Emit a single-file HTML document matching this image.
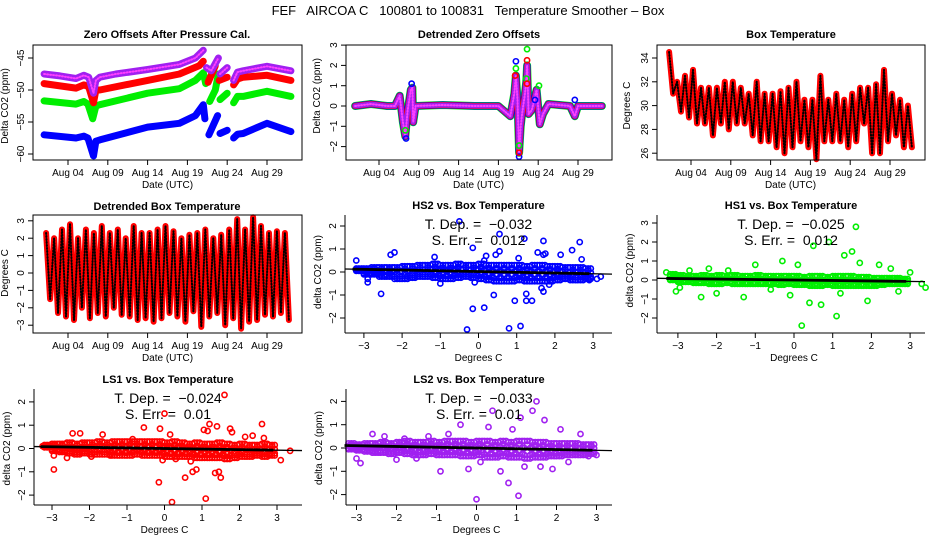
<!DOCTYPE html>
<html><head><meta charset="utf-8"><style>
html,body{margin:0;padding:0;background:#fff}
svg{display:block;font-family:"Liberation Sans",sans-serif}
</style></head><body>
<svg id="c" width="936" height="540" viewBox="0 0 936 540" xmlns="http://www.w3.org/2000/svg">
<rect width="936" height="540" fill="#fff"/>
<text x="468" y="15" text-anchor="middle" font-size="13" style="white-space:pre">FEF   AIRCOA C   100801 to 100831   Temperature Smoother – Box</text>
</svg>
<script>
// ===== Data =====
var dateTicks = [4, 9, 14, 19, 24, 29];
var dateLabels = ["Aug 04", "Aug 09", "Aug 14", "Aug 19", "Aug 24", "Aug 29"];
var zoPurple = [[1,-47.5],[3,-47.8],[5,-48.2],[6,-47.7],[6.6,-48],[7.2,-50.5],[7.5,-48.5],[8,-48],[10,-47.5],[14,-46.8],[18,-46],[20,-45],[21,-43.8],null,[21.4,-46.5],[22,-47],[22.9,-45],null,[23.1,-47.5],[24,-46.5],null,[24.8,-48.5],[25.3,-47.2],[26,-47],[29,-46.3],[32,-47]];
var zoRed = [[1,-49],[5,-49.7],[6,-49.2],[6.6,-49.5],[7.2,-52],[7.5,-50],[8,-50],[14,-48.5],[18,-47.5],[20.5,-46.2],[21,-45.5],null,[21.3,-46.8],null,[21.6,-48.8],[22.5,-46.2],null,[23,-48.5],[24,-48],null,[24.8,-49.2],[25.3,-48.3],[26,-48],[29,-47.7],[32,-48.5]];
var zoGreen = [[1,-51.7],[5,-52.2],[6,-51.8],[6.5,-52.2],[7.1,-54.5],[7.5,-52.5],[8,-52.3],[14,-50.5],[18,-49.8],[20,-48.5],[21,-47.3],[21.3,-49],null,[21.8,-51.8],[22.5,-50],[22.9,-47.5],null,[23.1,-51.5],[24,-50.5],null,[24.8,-52],[25.3,-51],[26,-51],[29,-50.2],[32,-51]];
var zoBlue = [[1,-57],[5,-57.5],[6,-57.2],[6.5,-57.5],[7.2,-60.3],[7.5,-58],[8,-57.8],[14,-55.8],[18,-55.2],[20,-54],[21,-52.3],[21.2,-54.5],null,[21.7,-57],[22.8,-54],null,[23.1,-56.8],[24,-56.3],null,[24.8,-57.5],[25.3,-56.9],[26,-56.8],[29,-55.2],[32,-56.5]];
var dzLine = [[1,0],[3,0.1],[5,0],[6,0],[6.6,0.5],[7,-0.8],[7.3,-1.5],[7.6,-0.2],[8,0.8],[8.2,0.9],[8.3,-0.8],[8.6,0],[12,0.05],[16,0],[19,0],[20.5,-0.5],[21,0.6],[21.2,1.5],[21.4,0.3],[21.6,-2.3],[21.8,-1],[22,-0.3],[22.3,0.5],[22.5,1.2],[22.6,2],[22.8,-0.4],[23.2,-0.2],[23.8,0.8],[24.2,-0.9],[24.6,-0.4],[25.3,0.1],[28,0],[28.6,-0.5],[29,0],[32,0]];
var dzBlueX = [21.2,21.6,7.4,8.1,23.6,28.6];
var dzBlueY = [2.2,-2.5,-1.6,1.1,0.3,0.3];
var dzGreenX = [22.6,21.6,21.2,22.5,24.1,7.3];
var dzGreenY = [2.8,-1.95,1.85,1.35,1.0,-1.2];
var dzRedX = [22.6,21.6,21.1,22.6];
var dzRedY = [2.25,-2.3,1.5,1.1];
var btMax = [34.5,32,32.5,33,31.5,31.5,31.5,32,32,31.5,31,32,31,31,31.2,31.5,32,30.5,30.5,32.5,30.5,31,30.5,31,31.5,31.5,31.8,33,31,30.5,30];
var btMin = [31,29.5,29,28.5,28.5,27.5,28.5,28,28.5,28.5,27.5,27,27,26.5,26,26.5,27,26.5,25.5,27,27,27,26.5,27,28.5,26,26,27,27.5,26.5,26.5];
var dbMax = [2.3,2.0,2.5,2.8,2.0,2.5,2.3,2.7,2.3,2.5,2.0,2.7,2.3,2.3,2.5,2.7,2.4,2.0,2.2,2.3,2.5,2.0,2.2,2.5,3.1,2.5,3.2,2.7,2.3,2.4,2.3];
var dbMin = [-1.5,-2.3,-2.5,-2.7,-2.0,-2.6,-2.3,-2.5,-2.0,-2.4,-2.5,-2.7,-2.6,-2.8,-2.6,-2.3,-2.5,-2.8,-2.2,-3.1,-2.5,-2.3,-3.0,-2.6,-3.2,-2.8,-2.7,-2.4,-2.5,-2.3,-2.7];
var bandX = [-3.2,-3.0,-2.8,-2.6,-2.4,-2.2,-2.0,-1.8,-1.6,-1.4,-1.2,-1.0,-0.8,-0.6,-0.4,-0.2,0,0.2,0.4,0.6,0.8,1.0,1.2,1.4,1.6,1.8,2.0,2.2,2.4,2.6,2.8];
var hs2Hi = [0.15,0.15,0.2,0.2,0.2,0.2,0.25,0.25,0.3,0.3,0.35,0.3,0.3,0.35,0.3,0.3,0.35,0.3,0.3,0.3,0.3,0.3,0.25,0.3,0.3,0.25,0.25,0.2,0.2,0.2,0.15];
var hs2Lo = [0.05,-0.1,-0.1,-0.2,-0.2,-0.3,-0.3,-0.25,-0.2,-0.2,-0.25,-0.3,-0.3,-0.25,-0.2,-0.25,-0.3,-0.35,-0.4,-0.4,-0.4,-0.35,-0.4,-0.4,-0.4,-0.4,-0.35,-0.3,-0.35,-0.35,-0.3];
var hs2X = [-3.2,-2.9,-2.9,-2.55,-2.3,-2.2,-1.15,-1,-0.5,-0.3,-0.15,-0.15,-0.1,0.15,0.15,0.2,0.4,0.45,0.55,0.55,0.8,0.95,1.05,1.1,1.2,1.25,1.25,1.4,1.55,1.65,1.7,1.7,1.7,1.75,1.85,2.15,2.45,2.65,2.7,2.9,3.1,3.2];
var hs2Y = [0.5,-0.3,-0.45,-0.95,0.75,0.85,0.65,-0.5,2.2,-2.5,1.05,-1.6,-0.45,0.5,-1.55,0.7,-1,0.75,0.9,1.65,-2.45,-1.25,0.6,-2.35,1.45,-0.95,-1.25,-1.25,0.85,-0.7,1.35,-0.85,0.75,0.8,-0.55,0.75,0.95,1.3,0.55,-0.35,-0.3,-0.2];
var hs1Hi = [0.3,0.25,0.2,0.2,0.25,0.2,0.25,0.2,0.25,0.2,0.2,0.25,0.2,0.2,0.2,0.2,0.2,0.15,0.2,0.2,0.15,0.2,0.2,0.2,0.15,0.15,0.1,0.1,0.1,0.1,0.05];
var hs1Lo = [0,-0.1,-0.1,-0.15,-0.15,-0.2,-0.2,-0.15,-0.2,-0.2,-0.2,-0.2,-0.2,-0.2,-0.25,-0.2,-0.25,-0.25,-0.3,-0.3,-0.25,-0.3,-0.3,-0.3,-0.3,-0.3,-0.3,-0.25,-0.2,-0.2,-0.2];
var hs1X = [-3.3,-3.05,-2.95,-2.7,-2.4,-2.2,-2.0,-1.7,-1.3,-1.0,-0.6,-0.3,-0.1,0.1,0.2,0.4,0.5,0.7,0.9,1.1,1.2,1.3,1.5,1.6,1.7,1.9,2.2,2.5,2.7,3.0,3.3,3.4];
var hs1Y = [0.4,-0.6,-0.4,0.5,-0.9,0.6,-0.7,0.5,-0.9,0.8,-0.5,1.0,-0.8,0.8,-2.4,-1.2,1.8,-1.3,2.0,-1.9,-0.7,1.3,1.5,2.8,0.9,-1.1,0.8,0.6,-0.6,0.4,-0.2,-0.4];
var ls1Hi = [0.15,0.2,0.2,0.25,0.2,0.25,0.25,0.3,0.25,0.3,0.3,0.3,0.3,0.3,0.3,0.3,0.25,0.3,0.25,0.2,0.25,0.2,0.2,0.25,0.2,0.15,0.2,0.15,0.15,0.2,0.15];
var ls1Lo = [0.05,-0.1,-0.15,-0.2,-0.25,-0.2,-0.25,-0.25,-0.25,-0.3,-0.3,-0.3,-0.25,-0.3,-0.3,-0.3,-0.35,-0.35,-0.35,-0.35,-0.4,-0.4,-0.4,-0.4,-0.45,-0.4,-0.35,-0.35,-0.3,-0.35,-0.3];
var ls1X = [-3.25,-2.95,-2.95,-2.6,-2.45,-2.25,-1.95,-1.65,-1.45,-0.85,-0.55,-0.15,-0.12,-0.05,0.0,0.2,0.15,0.3,0.55,0.7,0.75,0.85,1.05,1.1,1.15,1.2,1.35,1.4,1.45,1.5,1.6,1.75,1.8,2.15,2.35,2.6,2.65,2.8,3.1,3.35];
var ls1Y = [0.1,-0.3,-0.9,-0.4,0.65,0.65,-0.35,0.6,-0.3,0.4,0.9,-1.45,0.85,-0.5,1.5,-2.3,0.6,-0.45,-1.25,-0.55,-1.0,-0.9,0.8,-2.15,0.75,1.05,-1.05,0.95,-1.0,-1.25,2.3,0.85,0.7,0.5,0.55,1.05,0.45,-0.25,-0.5,-0.1];
var ls2Hi = [0.2,0.15,0.2,0.2,0.25,0.2,0.25,0.3,0.25,0.25,0.3,0.25,0.3,0.3,0.3,0.25,0.3,0.3,0.25,0.3,0.25,0.3,0.3,0.25,0.25,0.2,0.2,0.2,0.2,0.15,0.15];
var ls2Lo = [-0.05,-0.1,-0.15,-0.2,-0.2,-0.25,-0.2,-0.25,-0.3,-0.3,-0.25,-0.3,-0.3,-0.3,-0.35,-0.35,-0.3,-0.4,-0.4,-0.35,-0.4,-0.4,-0.45,-0.4,-0.4,-0.35,-0.35,-0.3,-0.3,-0.3,-0.25];
var ls2X = [-3.0,-2.9,-2.6,-2.3,-2.0,-1.8,-1.5,-1.2,-0.9,-0.7,-0.4,-0.2,0.0,0.1,0.3,0.4,0.6,0.8,0.9,1.05,1.1,1.2,1.4,1.5,1.6,1.7,1.9,2.1,2.3,2.6,2.8,3.0];
var ls2Y = [-0.45,-0.65,0.6,0.5,-0.5,0.4,-0.45,0.5,-1.0,0.6,1.0,-0.9,-2.2,-0.6,0.9,1.6,-1.0,-1.5,0.8,-2.05,1.3,-0.8,1.6,2.0,-0.8,1.2,-0.9,0.8,-0.6,0.6,-0.35,-0.3];
var slopes = {hs2: -0.032, hs1: -0.025, ls1: -0.024, ls2: -0.033};
var intercepts = {hs2: 0.02, hs1: 0.0, ls1: 0.0, ls2: 0.0};
var depText = {hs2: "-0.032", hs1: "-0.025", ls1: "-0.024", ls2: "-0.033"};
var errText = {hs2: "0.012", hs1: "0.012", ls1: "0.01", ls2: "0.01"};

// ===== Drawing =====
var NS = "http://www.w3.org/2000/svg";
var svg = document.getElementById("c");
function mk(tag, attrs, parent) {
  var e = document.createElementNS(NS, tag);
  for (var k in attrs) e.setAttribute(k, attrs[k]);
  (parent || svg).appendChild(e);
  return e;
}
function txt(s, attrs, parent) { var t = mk("text", attrs, parent); t.textContent = s; return t; }
function panelGroup(name) {
  var g = mk("g", {});
  
  
  return g;
}
function title(g, s, cx, y) {
  var t = txt(s, {x: cx, y: y, "text-anchor": "middle", "font-size": 11, "font-weight": "bold"}, g);
  
  
}
function yAxis(g, xl, ticks, fy, label, labX) {
  var ya = mk("g", {}, g);
  
  
  mk("line", {x1: xl, x2: xl, y1: fy(ticks[0]), y2: fy(ticks[ticks.length - 1]), stroke: "#000"}, ya);
  ticks.forEach(function (v) {
    var y = fy(v);
    mk("line", {x1: xl - 5, x2: xl, y1: y, y2: y, stroke: "#000"}, ya);
    var s = String(v).replace("-", "\u2212");
    var t = txt(s, {x: 0, y: 0, "text-anchor": "middle", "font-size": 10, transform: "translate(" + (xl - 9) + "," + y + ") rotate(-90)"}, ya);
    
    
  });
  var yl = txt(label, {x: 0, y: 0, "text-anchor": "middle", "font-size": 10, transform: "translate(" + labX + "," + (fy(ticks[0]) + fy(ticks[ticks.length - 1])) / 2 + ") rotate(-90)"}, ya);
  
  
}
function xAxis(g, yb, ticks, labels, fx, label) {
  var xa = mk("g", {}, g);
  
  
  mk("line", {x1: fx(ticks[0]), x2: fx(ticks[ticks.length - 1]), y1: yb, y2: yb, stroke: "#000"}, xa);
  ticks.forEach(function (v, i) {
    var x = fx(v);
    mk("line", {x1: x, x2: x, y1: yb, y2: yb + 5, stroke: "#000"}, xa);
    var t = txt(labels[i], {x: x, y: yb + 16, "text-anchor": "middle", "font-size": 10}, xa);
    
    
  });
  var xl = txt(label, {x: (fx(ticks[0]) + fx(ticks[ticks.length - 1])) / 2, y: yb + 28, "text-anchor": "middle", "font-size": 10}, xa);
  
  
}
function box(g, x0, x1, y0, y1) {
  var r = mk("rect", {x: x0, y: y0, width: x1 - x0, height: y1 - y0, fill: "none", stroke: "#000"}, g);
  
  
}
function polyPairs(g, pairs, fx, fy, color, w, name, dash) {
  var segs = [[]];
  pairs.forEach(function (p) { if (p === null) segs.push([]); else segs[segs.length - 1].push(fx(p[0]).toFixed(1) + "," + fy(p[1]).toFixed(1)); });
  segs.forEach(function (s) {
    if (!s.length) return;
    var pl = mk("polyline", {points: s.join(" "), fill: "none", stroke: color, "stroke-width": w, "stroke-linejoin": "round", "stroke-linecap": "round"}, g);
    if (dash) pl.setAttribute("stroke-dasharray", dash);
    
    
  });
}
function dots(g, xs, ys, fx, fy, color, name) {
  xs.forEach(function (x, i) {
    var c = mk("circle", {cx: fx(x), cy: fy(ys[i]), r: 2.6, fill: "none", stroke: color, "stroke-width": 1.6}, g);
    
    
  });
}
function daily(mx, mn) {
  var pts = [];
  for (var i = 0; i < mx.length; i++) { pts.push([i + 1.25, mx[i]]); pts.push([i + 1.75, mn[i]]); }
  return pts;
}
function dayScale(a4) { return function (d) { return a4 + (d - 4) * 7.96; }; }

(function () {
  var g = panelGroup("zero-offsets-panel");
  var fx = dayScale(68), fy = function (v) { return 58 + (-45 - v) * 6.4; };
  title(g, "Zero Offsets After Pressure Cal.", 167, 38);
  polyPairs(g, zoBlue, fx, fy, "#0000ff", 7, "series-hs2");
  polyPairs(g, zoGreen, fx, fy, "#00ee00", 7, "series-hs1");
  polyPairs(g, zoRed, fx, fy, "#ff0000", 7, "series-ls1");
  polyPairs(g, zoPurple, fx, fy, "#a020f0", 7, "series-ls2");
  polyPairs(g, zoPurple, fx, fy, "#ff40ff", 2, "series-ls2-dots", "1 2");
  box(g, 33, 302, 45, 160);
  yAxis(g, 33, [-60, -55, -50, -45], fy, "Delta CO2 (ppm)", 8);
  xAxis(g, 160, dateTicks, dateLabels, fx, "Date (UTC)");
})();

(function () {
  var g = panelGroup("detrended-zero-offsets-panel");
  var fx = dayScale(379), fy = function (v) { return 106 - v * 20.3; };
  title(g, "Detrended Zero Offsets", 479, 38);
  polyPairs(g, dzLine, fx, fy, "#00ee00", 8, "series-hs1");
  polyPairs(g, dzLine, fx, fy, "#0000ff", 7, "series-hs2");
  polyPairs(g, dzLine, fx, fy, "#ff0000", 6, "series-ls1");
  polyPairs(g, dzLine, fx, fy, "#a020f0", 5, "series-ls2");
  polyPairs(g, dzLine, fx, fy, "#ff40ff", 2, "series-ls2-dots", "1 2");
  dots(g, dzBlueX, dzBlueY, fx, fy, "#0000ff", "hs2-point");
  dots(g, dzGreenX, dzGreenY, fx, fy, "#00ee00", "hs1-point");
  dots(g, dzRedX, dzRedY, fx, fy, "#ff0000", "ls1-point");
  box(g, 346, 612, 45, 160);
  yAxis(g, 346, [-2, -1, 0, 1, 2, 3], fy, "Delta CO2 (ppm)", 320);
  xAxis(g, 160, dateTicks, dateLabels, fx, "Date (UTC)");
})();

(function () {
  var g = panelGroup("box-temperature-panel");
  var fx = dayScale(691), fy = function (v) { return 58 + (34 - v) * 11.9; };
  title(g, "Box Temperature", 791, 38);
  var pts = daily(btMax, btMin);
  polyPairs(g, pts, fx, fy, "#ff0000", 6, "box-temp-series");
  polyPairs(g, pts, fx, fy, "#000000", 2, "box-temp-dots", "1 2");
  box(g, 657, 925, 45, 160);
  yAxis(g, 657, [26, 28, 30, 32, 34], fy, "Degrees C", 630);
  xAxis(g, 160, dateTicks, dateLabels, fx, "Date (UTC)");
})();

(function () {
  var g = panelGroup("detrended-box-temperature-panel");
  var fx = dayScale(68), fy = function (v) { return 273 - v * 17.4; };
  title(g, "Detrended Box Temperature", 167, 210);
  var pts = daily(dbMax, dbMin);
  polyPairs(g, pts, fx, fy, "#ff0000", 6, "detrended-temp-series");
  polyPairs(g, pts, fx, fy, "#000000", 2, "detrended-temp-dots", "1 2");
  box(g, 33, 302, 215, 333);
  yAxis(g, 33, [-3, -2, -1, 0, 1, 2, 3], fy, "Degrees C", 8);
  xAxis(g, 333, dateTicks, dateLabels, fx, "Date (UTC)");
})();

function scatterPanel(key, name, ttl, x0, x1, y0, y1, cx0, ux, cy0, uy, yt, hi, lo, xs, ys, color) {
  var g = panelGroup(name);
  var fx = function (v) { return cx0 + v * ux; }, fy = function (v) { return cy0 - v * uy; };
  title(g, ttl, (x0 + x1) / 2, y0 - 6);
  var bx = [], by = [];
  var fr = [1, 0.6, 0.2, -0.2, -0.6, -1];
  bandX.forEach(function (x, i) {
    var mid = (hi[i] + lo[i]) / 2, half = (hi[i] - lo[i]) / 2;
    [0, 0.07, 0.14].forEach(function (dx, k) {
      fr.forEach(function (f, j) {
        if ((j + k) % 2 === 0 || j === 0 || j === 5) { bx.push(x + dx); by.push(mid + f * half); }
      });
    });
  });
  dots(g, bx, by, fx, fy, color, "band-point");
  dots(g, xs, ys, fx, fy, color, "outlier-point");
  var s = slopes[key], b = intercepts[key];
  var xa = (x0 - cx0) / ux, xb = (x1 - cx0) / ux;
  var l1 = mk("line", {x1: fx(xa), y1: fy(b + s * xa), x2: fx(xb), y2: fy(b + s * xb), stroke: "#000", "stroke-width": 1.3}, g);
  
  
  var l2 = mk("line", {x1: fx(-3.3), y1: fy(b + s * -3.3), x2: fx(2.9), y2: fy(b + s * 2.9), stroke: "#000", "stroke-width": 2.8}, g);
  
  
  mk("line", {x1: x0, x2: x0, y1: y0, y2: y1, stroke: "#000"}, g);
  mk("line", {x1: x0, x2: x1, y1: y1, y2: y1, stroke: "#000"}, g);
  yAxis(g, x0, yt, fy, "delta CO2 (ppm)", x0 - 24);
  var xt = [-3, -2, -1, 0, 1, 2, 3];
  xAxis(g, y1, xt, xt.map(function (v) { return String(v).replace("-", "\u2212"); }), fx, "Degrees C");
  var t1 = txt("T. Dep. =  " + depText[key].replace("-", "\u2212"), {x: (x0 + x1) / 2, y: y0 + 14, "text-anchor": "middle", "font-size": 14, style: "white-space:pre"}, g);
  
  
  var t2 = txt("S. Err. =  " + errText[key], {x: (x0 + x1) / 2, y: y0 + 30, "text-anchor": "middle", "font-size": 14, style: "white-space:pre"}, g);
  
  
}
scatterPanel("hs2", "hs2-vs-box-temp-panel", "HS2 vs. Box Temperature", 345, 612, 215, 333, 478.5, 38.2, 272, 23, [-2, -1, 0, 1, 2], hs2Hi, hs2Lo, hs2X, hs2Y, "#0000ff");
scatterPanel("hs1", "hs1-vs-box-temp-panel", "HS1 vs. Box Temperature", 657, 925, 215, 333, 794, 38.7, 280, 19, [-2, -1, 0, 1, 2, 3], hs1Hi, hs1Lo, hs1X, hs1Y, "#00ee00");
scatterPanel("ls1", "ls1-vs-box-temp-panel", "LS1 vs. Box Temperature", 34, 302, 389, 505, 164.5, 37.5, 448.5, 23.3, [-2, -1, 0, 1, 2], ls1Hi, ls1Lo, ls1X, ls1Y, "#ff0000");
scatterPanel("ls2", "ls2-vs-box-temp-panel", "LS2 vs. Box Temperature", 346, 612, 389, 505, 476.5, 40, 448, 23.3, [-2, -1, 0, 1, 2], ls2Hi, ls2Lo, ls2X, ls2Y, "#a020f0");
</script>
</body></html>
